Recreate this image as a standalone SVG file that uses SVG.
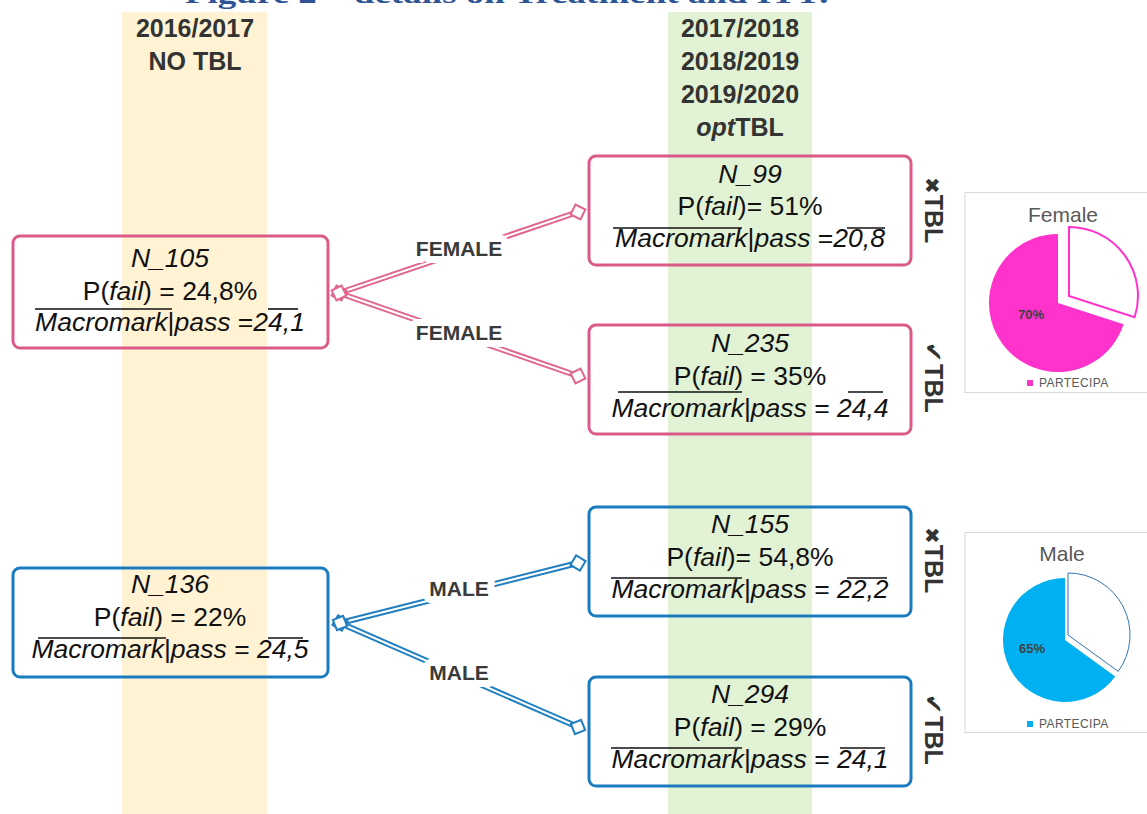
<svg xmlns="http://www.w3.org/2000/svg" width="1147" height="814" viewBox="0 0 1147 814">
<style>
.hdr{font-family:"Liberation Sans",Arial,sans-serif;font-weight:bold;font-size:25px;fill:#333;text-anchor:middle}
.nt{font-family:"Liberation Sans",Arial,sans-serif;font-size:26.5px;fill:#111;text-anchor:middle}
.it{font-style:italic}
.ov{stroke:#111;stroke-width:1.6}
.pink{fill:none;stroke:#da5b87;stroke-width:3}
.blue{fill:none;stroke:#1b7bbf;stroke-width:3}
.cp{fill:none;stroke:#e0668f;stroke-width:6}
.cb{fill:none;stroke:#1f7fc0;stroke-width:6}
.cw{fill:none;stroke:#fff;stroke-width:2}
.dp{fill:#fff;stroke:#e0668f;stroke-width:2}
.db{fill:#fff;stroke:#1f7fc0;stroke-width:2}
.lbl{font-family:"Liberation Sans",Arial,sans-serif;font-weight:bold;font-size:21px;fill:#3a3a3a;text-anchor:middle;stroke:#fff;stroke-width:14;paint-order:stroke;stroke-linejoin:round}
.tbl{font-family:"Liberation Sans",Arial,sans-serif;font-weight:bold;font-size:25px;fill:#333}
.mk{font-family:"DejaVu Sans",sans-serif;font-size:20px}
.mc{font-family:"DejaVu Sans",sans-serif;font-size:24px}
.ct{font-family:"Liberation Sans",Arial,sans-serif;font-size:21px;fill:#595959;text-anchor:middle}
.pc{font-family:"Liberation Sans",Arial,sans-serif;font-weight:bold;font-size:13px;fill:#404040}
.lg{font-family:"Liberation Sans",Arial,sans-serif;font-size:12px;fill:#595959;letter-spacing:0.4px}
</style>

<!-- bands -->
<rect x="122" y="12" width="145" height="802" fill="#fff3d4"/>
<rect x="668" y="12" width="144" height="802" fill="#e2f2d5"/>

<text x="185" y="3" font-family="'Liberation Serif',serif" font-weight="bold" font-size="28" fill="#2f5496" textLength="645" lengthAdjust="spacingAndGlyphs">Figure 2 – details on Treatment and ITT:</text>

<g id="header-left">
<text class="hdr" x="195" y="37">2016/2017</text>
<text class="hdr" x="195" y="70">NO TBL</text>
</g>
<g id="header-right">
<text class="hdr" x="740" y="37">2017/2018</text>
<text class="hdr" x="740" y="70">2018/2019</text>
<text class="hdr" x="740" y="103">2019/2020</text>
<text class="hdr" x="740" y="136"><tspan font-style="italic">opt</tspan>TBL</text>
</g>

<g id="connectors">
<path class="cp" d="M339,293 L578,212"/><path class="cw" d="M339,293 L578,212"/>
<path class="cp" d="M339,293 L578,376"/><path class="cw" d="M339,293 L578,376"/>
<path class="cb" d="M340,623 L578,563"/><path class="cw" d="M340,623 L578,563"/>
<path class="cb" d="M340,623 L578,727"/><path class="cw" d="M340,623 L578,727"/>
<rect class="dp" x="-5.5" y="-5.5" width="11" height="11" transform="translate(339,293) rotate(26)"/>
<rect class="dp" x="-5.5" y="-5.5" width="11" height="11" transform="translate(339,293) rotate(64)"/>
<rect class="dp" x="-5.5" y="-5.5" width="11" height="11" transform="translate(578,212) rotate(26)"/>
<rect class="dp" x="-5.5" y="-5.5" width="11" height="11" transform="translate(578,376) rotate(64)"/>
<rect class="db" x="-5.5" y="-5.5" width="11" height="11" transform="translate(340,623) rotate(31)"/>
<rect class="db" x="-5.5" y="-5.5" width="11" height="11" transform="translate(340,623) rotate(68)"/>
<rect class="db" x="-5.5" y="-5.5" width="11" height="11" transform="translate(578,563) rotate(31)"/>
<rect class="db" x="-5.5" y="-5.5" width="11" height="11" transform="translate(578,727) rotate(68)"/>
<text class="lbl" x="459" y="256">FEMALE</text>
<text class="lbl" x="459" y="340">FEMALE</text>
<text class="lbl" x="459" y="596">MALE</text>
<text class="lbl" x="459" y="680">MALE</text>
</g>

<g id="n105">
<rect class="pink" x="13" y="236" width="315" height="112" rx="7"/>
<text class="nt it" x="170" y="267">N_105</text>
<text class="nt" x="170" y="300">P(<tspan class="it">fail</tspan>) = 24,8%</text>
<text class="nt" x="170" y="331"><tspan class="it">Macromark</tspan>|<tspan class="it">pass</tspan> =<tspan class="it">24,1</tspan></text>
<line class="ov" x1="35" y1="309" x2="172" y2="309"/><line class="ov" x1="268" y1="309" x2="298" y2="309"/>
</g>

<g id="n99">
<rect class="pink" x="589" y="156" width="322" height="109" rx="7"/>
<text class="nt it" x="750" y="183">N_99</text>
<text class="nt" x="750" y="215">P(<tspan class="it">fail</tspan>)= 51%</text>
<text class="nt" x="750" y="247"><tspan class="it">Macromark</tspan>|<tspan class="it">pass</tspan> =<tspan class="it">20,8</tspan></text>
<line class="ov" x1="613" y1="228" x2="742" y2="228"/><line class="ov" x1="847" y1="228" x2="885" y2="228"/>
</g>

<g id="n235">
<rect class="pink" x="589" y="325" width="322" height="109" rx="7"/>
<text class="nt it" x="750" y="352">N_235</text>
<text class="nt" x="750" y="385">P(<tspan class="it">fail</tspan>) = 35%</text>
<text class="nt" x="750" y="417"><tspan class="it">Macromark</tspan>|<tspan class="it">pass</tspan> = <tspan class="it">24,4</tspan></text>
<line class="ov" x1="618" y1="392" x2="742" y2="392"/><line class="ov" x1="848" y1="392" x2="883" y2="392"/>
</g>

<g id="n136">
<rect class="blue" x="13" y="568" width="315" height="109" rx="7"/>
<text class="nt it" x="170" y="593">N_136</text>
<text class="nt" x="170" y="626">P(<tspan class="it">fail</tspan>) = 22%</text>
<text class="nt" x="170" y="658"><tspan class="it">Macromark</tspan>|<tspan class="it">pass</tspan> = <tspan class="it">24,5</tspan></text>
<line class="ov" x1="38" y1="638" x2="166" y2="638"/><line class="ov" x1="268" y1="638" x2="303" y2="638"/>
</g>

<g id="n155">
<rect class="blue" x="589" y="507" width="322" height="109" rx="7"/>
<text class="nt it" x="750" y="533">N_155</text>
<text class="nt" x="750" y="566">P(<tspan class="it">fail</tspan>)= 54,8%</text>
<text class="nt" x="750" y="598"><tspan class="it">Macromark</tspan>|<tspan class="it">pass</tspan> = <tspan class="it">22,2</tspan></text>
<line class="ov" x1="611" y1="578" x2="742" y2="578"/><line class="ov" x1="847" y1="578" x2="887" y2="578"/>
</g>

<g id="n294">
<rect class="blue" x="589" y="677" width="322" height="109" rx="7"/>
<text class="nt it" x="750" y="703">N_294</text>
<text class="nt" x="750" y="736">P(<tspan class="it">fail</tspan>) = 29%</text>
<text class="nt" x="750" y="768"><tspan class="it">Macromark</tspan>|<tspan class="it">pass</tspan> = <tspan class="it">24,1</tspan></text>
<line class="ov" x1="611" y1="748" x2="742" y2="748"/><line class="ov" x1="840" y1="748" x2="885" y2="748"/>
</g>

<g id="tbl-labels">
<text class="tbl" transform="translate(925,177) rotate(90)"><tspan class="mk">✖</tspan><tspan dx="1">TBL</tspan></text>
<text class="tbl" transform="translate(925,342) rotate(90)"><tspan class="mc">✔</tspan><tspan dx="2">TBL</tspan></text>
<text class="tbl" transform="translate(925,527) rotate(90)"><tspan class="mk">✖</tspan><tspan dx="1">TBL</tspan></text>
<text class="tbl" transform="translate(925,694) rotate(90)"><tspan class="mc">✔</tspan><tspan dx="2">TBL</tspan></text>
</g>

<g id="chart-female">
<rect x="965" y="192.5" width="190" height="200" fill="#fff" stroke="#d9d9d9" stroke-width="1"/>
<text class="ct" x="1063" y="222">Female</text>
<path d="M1058,303 L1058,234 A69,69 0 1 0 1123.6,324.3 Z" fill="#ff33cc"/>
<path d="M1069,296 L1069,227 A69,69 0 0 1 1134.6,317.3 Z" fill="#fff" stroke="#ff33cc" stroke-width="2"/>
<text class="pc" x="1018" y="319">70%</text>
<rect x="1027" y="380" width="6" height="6" fill="#ff33cc"/>
<text class="lg" x="1039" y="387">PARTECIPA</text>
</g>

<g id="chart-male">
<rect x="965" y="532.5" width="190" height="200" fill="#fff" stroke="#d9d9d9" stroke-width="1"/>
<text class="ct" x="1062" y="561">Male</text>
<path d="M1065,640 L1065,578 A62,62 0 1 0 1115.2,676.4 Z" fill="#00b0f0"/>
<path d="M1068,635 L1068,573 A62,62 0 0 1 1118.2,671.4 Z" fill="#fff" stroke="#2e75b6" stroke-width="1"/>
<text class="pc" x="1019" y="653">65%</text>
<rect x="1027" y="721" width="6" height="6" fill="#00b0f0"/>
<text class="lg" x="1039" y="728">PARTECIPA</text>
</g>
</svg>
